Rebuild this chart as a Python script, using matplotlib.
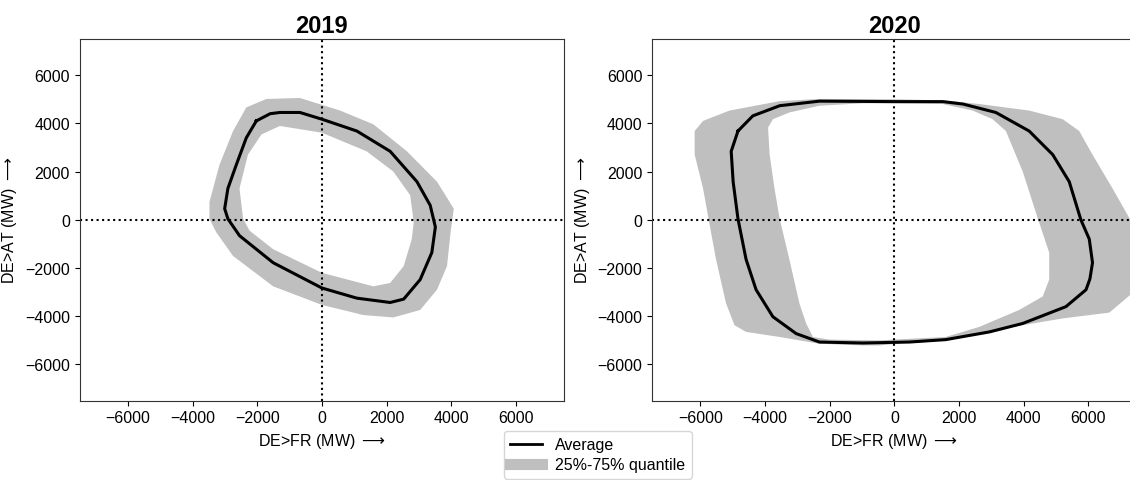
import matplotlib
matplotlib.use('Agg')
import matplotlib.pyplot as plt
from matplotlib.lines import Line2D

plt.rcParams['font.family'] = ['Liberation Sans', 'DejaVu Sans']

# 2019 loops (MW), DE>FR on x, DE>AT on y
avg19_x = [-2030, -1600, -1300, -680, 0, 1080, 2110, 2940, 3350, 3510, 3400, 3040, 2530, 2110,
           1080, 0, -1510, -2550, -2910, -3010, -2910, -2650, -2340]
avg19_y = [4100, 4400, 4450, 4450, 4170, 3680, 2840, 1580, 600, -300, -1360, -2480, -3290, -3430,
           -3250, -2830, -1780, -660, 40, 460, 1300, 2280, 3400]
out19_x = [-2340, -1720, -680, 560, 1590, 2630, 3560, 4080, 3980, 3870, 3560, 3040, 2210, 1280,
           0, -1510, -2750, -3270, -3480, -3480, -3170, -2750]
out19_y = [4660, 5010, 5050, 4530, 3960, 2840, 1580, 460, -520, -1920, -2900, -3740, -4050, -3950,
           -3530, -2760, -1500, -520, 40, 740, 2280, 3680]
in19_x = [-1870, -1300, 0, 1380, 2210, 2730, 2840, 2780, 2530, 2110, 1590, 0, -1510, -2240,
          -2440, -2550, -2290]
in19_y = [3540, 3890, 3610, 2840, 2000, 1020, -100, -800, -1920, -2620, -2760, -2200, -1220, -450,
          40, 1300, 2700]

# 2020 loops
avg20_x = [-4840, -4380, -3550, -2320, 0, 1500, 2120, 3140, 4170, 4900, 5410, 5770, 6030, 6130,
           6050, 5930, 5310, 3970, 2940, 1590, 460, -980, -2320, -3040, -3760, -4280, -4590, -4840,
           -4990, -5050]
avg20_y = [3680, 4310, 4730, 4920, 4900, 4900, 4800, 4450, 3680, 2700, 1580, 0, -800, -1780,
           -2450, -2900, -3600, -4300, -4650, -4970, -5070, -5110, -5070, -4720, -4020, -2900, -1640, 40,
           1580, 2840]
out20_x = [-5920, -5100, -3550, -2320, 0, 1500, 2630, 4170, 5210, 5720, 6130, 6750, 7300, 7750,
           7400, 6650, 5210, 3660, 2120, -460, -980, -2320, -3550, -4590, -4950, -5210, -5520, -5750,
           -5920, -6180, -6180]
out20_y = [4100, 4530, 4920, 5010, 5000, 4950, 4800, 4530, 4170, 3680, 2700, 1300, 0, -1500,
           -3000, -3850, -4090, -4440, -4860, -5210, -5210, -5140, -4860, -4650, -4370, -3460, -1640, 40,
           1300, 2700, 3680]
in20_x = [-3760, -3250, -2320, -980, 0, 1500, 2420, 3040, 3450, 3970, 4450, 4790, 4790, 4590,
          3860, 2630, 1590, -460, -2010, -2520, -2730, -2940, -3250, -3550, -3710, -3860, -3910]
in20_y = [4170, 4450, 4730, 4830, 4830, 4800, 4530, 4170, 3680, 2000, 0, -1360, -2480, -3180,
          -3740, -4440, -4860, -5000, -4970, -4860, -4300, -3460, -1640, 40, 1300, 2700, 3820]

years = ['2019', '2020']
ticks = [-6000, -4000, -2000, 0, 2000, 4000, 6000]
band_color = '#bfbfbf'


def closed(a):
    return list(a) + [a[0]]


fig = plt.figure(figsize=(11.3, 4.81), dpi=100)
ax1 = fig.add_axes([0.0704, 0.165, 0.429, 0.752])
ax2 = fig.add_axes([0.577, 0.165, 0.429, 0.752])

sets = [(ax1, avg19_x, avg19_y, out19_x, out19_y, in19_x, in19_y),
        (ax2, avg20_x, avg20_y, out20_x, out20_y, in20_x, in20_y)]

for (ax, mx, my, ox, oy, ix, iy), yr in zip(sets, years):
    ax.fill(ox, oy, color=band_color, lw=0, zorder=1)
    ax.fill(ix, iy, color='white', lw=0, zorder=1.5)
    ax.axhline(0, color='black', ls=':', lw=1.5, zorder=2)
    ax.axvline(0, color='black', ls=':', lw=1.5, zorder=2)
    ax.plot(closed(mx), closed(my), color='black', lw=2.2, zorder=3,
            solid_joinstyle='round')
    ax.set_xlim(-7500, 7500)
    ax.set_ylim(-7500, 7500)
    ax.set_xticks(ticks)
    ax.set_yticks(ticks)
    ax.tick_params(labelsize=11.5)
    ax.set_title(yr, fontsize=17, fontweight='bold', pad=5)
    ax.set_xlabel(r'DE>FR (MW) $\longrightarrow$', fontsize=11.5)
    ax.set_ylabel(r'DE>AT (MW) $\longrightarrow$', fontsize=11.5)
    for s in ax.spines.values():
        s.set_color('#333333')

handles = [Line2D([], [], color='black', lw=2),
           Line2D([], [], color=band_color, lw=8)]
fig.legend(handles, ['Average', '25%-75% quantile'], loc='upper center',
           bbox_to_anchor=(0.529, 0.102), fontsize=11.5, frameon=True,
           handlelength=2.0, borderpad=0.4, labelspacing=0.3, borderaxespad=0)

fig.savefig('out.png', dpi=100)
